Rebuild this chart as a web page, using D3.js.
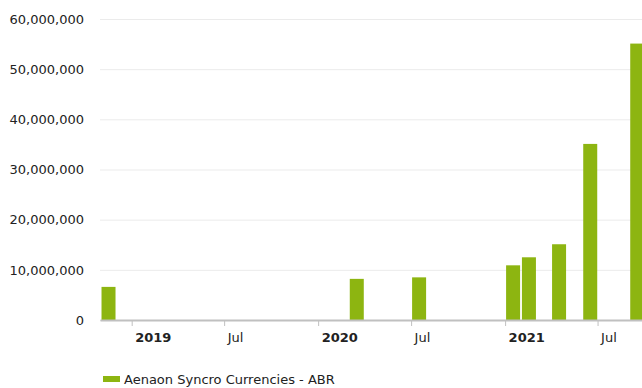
<!DOCTYPE html>
<html>
<head>
<meta charset="utf-8">
<script src="https://cdn.jsdelivr.net/npm/d3@7"></script>
<style>
  body { margin: 0; background: #fff; }
  text { font-family: "DejaVu Sans", Verdana, sans-serif; }
</style>
</head>
<body>
<div id="chart"></div>
<script>
// monthly values
const months = ["2018-11", "2020-03", "2020-07", "2021-01", "2021-02", "2021-04", "2021-06", "2021-09"];
const values = [6600000, 8200000, 8500000, 10900000, 12500000, 15100000, 35100000, 55100000];
const yTicks = [0, 10000000, 20000000, 30000000, 40000000, 50000000, 60000000];
const xTicks = ["2019-01", "2019-07", "2020-01", "2020-07", "2021-01", "2021-07"];
const seriesName = "Aenaon Syncro Currencies - ABR";

const width = 642, height = 388;
const marginLeft = 100, marginRight = 0, marginTop = 19, marginBottom = 68;
const parse = d3.utcParse("%Y-%m");

const svg = d3.select("#chart").append("svg")
  .attr("width", width)
  .attr("height", height);

const x = d3.scaleUtc()
  .domain([new Date(Date.UTC(2018, 9, 31)), new Date(Date.UTC(2021, 8, 26))])
  .range([marginLeft, width - marginRight]);

const y = d3.scaleLinear()
  .domain([0, 60000000])
  .range([height - marginBottom, marginTop]);

// gridlines + y labels
const yAxis = svg.append("g")
  .attr("transform", `translate(${marginLeft},0)`)
  .call(d3.axisLeft(y).tickValues(yTicks).tickSize(-(width - marginLeft - marginRight)).tickPadding(16)
    .tickFormat(d3.format(",")));
yAxis.select(".domain").remove();
yAxis.selectAll(".tick line").attr("stroke", "#ebebeb");
yAxis.selectAll(".tick text").attr("font-size", 13).attr("fill", "#222");

svg.append("clipPath").attr("id", "plot")
  .append("rect")
  .attr("x", marginLeft).attr("y", 0)
  .attr("width", width - marginLeft - marginRight).attr("height", height - marginBottom);

const data = months.map((m, i) => ({ date: parse(m), value: values[i] }));

svg.append("g")
  .attr("clip-path", "url(#plot)")
  .selectAll("rect")
  .data(data)
  .enter()
  .append("rect")
  .attr("x", d => x(d.date) + 1)
  .attr("width", 14)
  .attr("y", d => y(d.value))
  .attr("height", d => y(0) - y(d.value))
  .attr("fill", "#8db511");

// x axis
const xAxis = svg.append("g")
  .attr("transform", `translate(0,${height - marginBottom})`)
  .call(d3.axisBottom(x).tickValues(xTicks.map(parse)).tickSize(6).tickSizeOuter(0).tickPadding(7)
    .tickFormat(d => d.getUTCMonth() === 0 ? d3.utcFormat("%Y")(d) : d3.utcFormat("%b")(d)));
xAxis.select(".domain").attr("stroke", "#c0c0c0").attr("stroke-width", 2);
xAxis.selectAll(".tick line").attr("stroke", "#c0c0c0").attr("stroke-width", 1);
xAxis.selectAll(".tick text")
  .attr("font-size", 13)
  .attr("fill", "#222")
  .attr("font-weight", d => d.getUTCMonth() === 0 ? "bold" : "normal")
  .attr("text-anchor", "start")
  .attr("dx", 3);

// legend
const legend = svg.append("g").attr("transform", "translate(103,379)");
legend.append("rect")
  .attr("x", 0).attr("y", -3)
  .attr("width", 17).attr("height", 6)
  .attr("fill", "#8db511");
legend.append("text")
  .attr("x", 21).attr("y", 0)
  .attr("dy", "0.35em")
  .attr("font-size", 13)
  .attr("fill", "#222")
  .text(seriesName);
</script>
</body>
</html>
